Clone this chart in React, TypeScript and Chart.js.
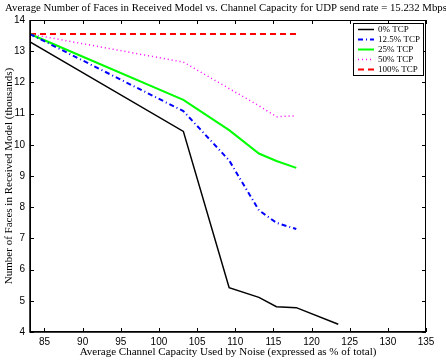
import React, { useEffect, useRef } from "react";
import { Chart, registerables } from "chart.js";

Chart.register(...registerables);

const TITLE =
  "Average Number of Faces in Received Model vs. Channel Capacity for UDP send rate = 15.232 Mbps";
const X_TITLE = "Average Channel Capacity Used by Noise (expressed as % of total)";
const Y_TITLE = "Number of Faces in Received Model (thousands)";

// noise share (% of total channel capacity)
const noiseX = [83.1, 103.2, 109.2, 113.1, 115.4, 118.0];
const noiseXTail = [...noiseX, 123.5];

// faces received (thousands) for each TCP share
const tcp0 = [13.3, 10.43, 5.42, 5.11, 4.81, 4.78, 4.25];
const tcp12 = [13.55, 11.08, 9.5, 7.9, 7.5, 7.3];
const tcp25 = [13.55, 11.44, 10.47, 9.72, 9.48, 9.26];
const tcp50 = [13.55, 12.65, 11.8, 11.25, 10.9, 10.93];
const tcp100 = [13.55, 13.55, 13.55, 13.55, 13.55, 13.55];

const seriesNames = ["0% TCP", "12.5% TCP", "25% TCP", "50% TCP", "100% TCP"];

const xTicks = [85, 90, 95, 100, 105, 110, 115, 120, 125, 130, 135];

const SERIF = "'Liberation Serif', 'DejaVu Serif', serif";
const SANS = "'Liberation Sans', Arial, sans-serif";

const pts = (xs: number[], ys: number[]) => ys.map((y, i) => ({ x: xs[i], y }));

// frame, inward ticks on all four sides, title and legend
const framePlugin = {
  id: "frame",
  afterDraw(chart: any) {
    const { ctx, chartArea: a, scales } = chart;
    const xs = scales.x;
    const ys = scales.y;
    ctx.save();
    ctx.strokeStyle = "#000";
    ctx.lineWidth = 1;
    ctx.setLineDash([]);
    ctx.strokeRect(a.left + 0.5, a.top + 0.5, a.right - a.left - 1, a.bottom - a.top - 1);
    ctx.lineWidth = 1.5;
    ctx.beginPath();
    ctx.moveTo(a.left, a.top);
    ctx.lineTo(a.left, a.bottom);
    ctx.lineTo(a.right, a.bottom);
    ctx.stroke();
    ctx.lineWidth = 1;
    const tl = 4;
    ctx.beginPath();
    xs.ticks.forEach((t: any) => {
      const px = Math.round(xs.getPixelForValue(t.value)) + 0.5;
      ctx.moveTo(px, a.bottom);
      ctx.lineTo(px, a.bottom - tl);
      ctx.moveTo(px, a.top);
      ctx.lineTo(px, a.top + tl);
    });
    ys.ticks.forEach((t: any) => {
      const py = Math.round(ys.getPixelForValue(t.value)) + 0.5;
      ctx.moveTo(a.left, py);
      ctx.lineTo(a.left + tl, py);
      ctx.moveTo(a.right, py);
      ctx.lineTo(a.right - tl, py);
    });
    ctx.stroke();

    // title
    ctx.fillStyle = "#000";
    ctx.font = `10.8px ${SERIF}`;
    ctx.textAlign = "center";
    ctx.textBaseline = "middle";
    ctx.fillText(TITLE, 226, 8);

    // legend box
    const bx = 353;
    const by = 23;
    const bw = 70;
    const bh = 52;
    ctx.fillStyle = "#fff";
    ctx.fillRect(bx, by, bw, bh);
    ctx.strokeStyle = "#000";
    ctx.lineWidth = 1;
    ctx.strokeRect(bx + 0.5, by + 0.5, bw, bh);
    ctx.font = `9px ${SERIF}`;
    ctx.textAlign = "left";
    chart.data.datasets.forEach((ds: any, i: number) => {
      const y = by + 6.5 + i * 10;
      ctx.strokeStyle = ds.borderColor;
      ctx.lineWidth = ds.borderWidth;
      ctx.setLineDash(ds.borderDash || []);
      ctx.beginPath();
      ctx.moveTo(bx + 5, y);
      ctx.lineTo(bx + 21, y);
      ctx.stroke();
      ctx.setLineDash([]);
      ctx.fillStyle = "#000";
      ctx.fillText(ds.label, bx + 25, y + 0.5);
    });
    ctx.restore();
  },
};

export default function App() {
  const ref = useRef<HTMLCanvasElement | null>(null);

  useEffect(() => {
    if (!ref.current) return;
    const chart = new Chart(ref.current, {
      type: "line",
      data: {
        datasets: [
          {
            label: seriesNames[0],
            data: pts(noiseXTail, tcp0),
            borderColor: "#000000",
            borderWidth: 1.5,
          },
          {
            label: seriesNames[1],
            data: pts(noiseX, tcp12),
            borderColor: "#0000ff",
            borderWidth: 2,
            borderDash: [5, 3, 1, 3],
          },
          {
            label: seriesNames[2],
            data: pts(noiseX, tcp25),
            borderColor: "#00ff00",
            borderWidth: 2,
          },
          {
            label: seriesNames[3],
            data: pts(noiseX, tcp50),
            borderColor: "#ff00ff",
            borderWidth: 1.5,
            borderDash: [1, 3],
          },
          {
            label: seriesNames[4],
            data: pts(noiseX, tcp100),
            borderColor: "#ff0000",
            borderWidth: 2,
            borderDash: [6, 4],
          },
        ] as any,
      },
      options: {
        animation: false,
        responsive: false,
        events: [],
        layout: { padding: { top: 20, right: 20, left: 0, bottom: 0 } },
        elements: { point: { radius: 0 }, line: { tension: 0 } },
        plugins: { legend: { display: false }, title: { display: false }, tooltip: { enabled: false } },
        scales: {
          x: {
            type: "linear",
            min: 83.1,
            max: 135,
            afterBuildTicks: (s: any) => {
              s.ticks = xTicks.map((v) => ({ value: v }));
            },
            afterFit: (s: any) => {
              s.height = 30;
            },
            grid: { display: false, drawTicks: false },
            border: { display: false },
            ticks: {
              padding: 4,
              color: "#000",
              font: { family: SANS, size: 10 },
              maxRotation: 0,
              autoSkip: false,
            },
            title: {
              display: true,
              text: X_TITLE,
              color: "#000",
              font: { family: SERIF, size: 11 },
              padding: { top: 0, bottom: 3 },
            },
          },
          y: {
            type: "linear",
            min: 4,
            max: 14,
            afterFit: (s: any) => {
              s.width = 30;
            },
            grid: { display: false, drawTicks: false },
            border: { display: false },
            ticks: {
              stepSize: 1,
              padding: 5,
              color: "#000",
              font: { family: SANS, size: 10 },
            },
            title: {
              display: true,
              text: Y_TITLE,
              color: "#000",
              font: { family: SERIF, size: 11 },
              padding: { top: 3, bottom: 0 },
            },
          },
        },
      },
      plugins: [framePlugin],
    });
    return () => chart.destroy();
  }, []);

  return (
    <div style={{ position: "fixed", left: 0, top: 0, width: 446, height: 362, background: "#fff" }}>
      <canvas ref={ref} width={446} height={362} style={{ display: "block", width: 446, height: 362 }} />
    </div>
  );
}
